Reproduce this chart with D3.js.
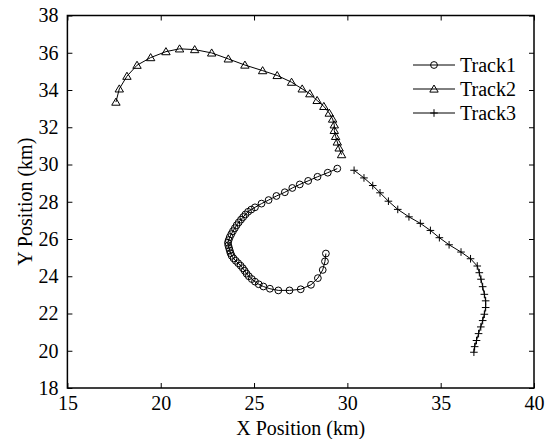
<!DOCTYPE html>
<html>
<head>
<meta charset="utf-8">
<script src="https://cdn.jsdelivr.net/npm/d3@7"></script>
<style>
  body { margin: 0; background: #fff; }
  svg { display: block; }
  text { font-family: "Liberation Serif", "Times New Roman", serif; fill: #000; }
</style>
</head>
<body>
<svg id="chart" width="547" height="439"></svg>
<script>
// Axis ticks
const xTicks = [15, 20, 25, 30, 35, 40];
const yTicks = [18, 20, 22, 24, 26, 28, 30, 32, 34, 36, 38];

// Track 1 (circles)
const track1X = [29.46, 28.95, 28.40, 27.90, 27.45, 27.05, 26.65, 26.20, 25.78, 25.40, 25.05,
  24.85, 24.68, 24.54, 24.42, 24.30, 24.18, 24.07, 23.97, 23.87, 23.78, 23.70, 23.64, 23.60,
  23.62, 23.66, 23.70, 23.74, 23.80, 23.90, 24.02, 24.15, 24.28, 24.40, 24.50, 24.60, 24.72,
  24.88, 25.05, 25.25, 25.50, 25.85, 26.30, 26.90, 27.50, 28.05, 28.42, 28.68, 28.80, 28.85];
const track1Y = [29.78, 29.56, 29.34, 29.12, 28.93, 28.74, 28.51, 28.31, 28.09, 27.90, 27.70,
  27.58, 27.46, 27.32, 27.18, 27.04, 26.89, 26.74, 26.58, 26.42, 26.26, 26.10, 25.94, 25.80,
  25.66, 25.52, 25.38, 25.24, 25.10, 24.96, 24.83, 24.70, 24.57, 24.43, 24.29, 24.14, 24.00,
  23.85, 23.71, 23.57, 23.45, 23.33, 23.24, 23.24, 23.30, 23.54, 23.90, 24.34, 24.80, 25.22];

// Track 2 (triangles)
const track2X = [17.60, 17.78, 18.19, 18.73, 19.46, 20.28, 21.01, 21.82, 22.73, 23.62, 24.51,
  25.46, 26.24, 27.01, 27.58, 27.99, 28.38, 28.74, 29.03, 29.21, 29.30, 29.30, 29.37, 29.46,
  29.56, 29.69];
const track2Y = [33.35, 34.06, 34.74, 35.33, 35.74, 36.06, 36.21, 36.17, 35.99, 35.67, 35.34,
  35.04, 34.78, 34.42, 34.06, 33.80, 33.44, 33.12, 32.76, 32.44, 32.13, 31.83, 31.51, 31.21,
  30.89, 30.53];

// Track 3 (plus signs)
const track3X = [30.36, 30.89, 31.36, 31.75, 32.20, 32.70, 33.30, 33.91, 34.45, 34.93, 35.45,
  36.09, 36.60, 36.96, 37.07, 37.16, 37.25, 37.34, 37.41, 37.41, 37.34, 37.25, 37.15, 37.03,
  36.92, 36.82, 36.78];
const track3Y = [29.69, 29.28, 28.87, 28.48, 28.03, 27.59, 27.19, 26.84, 26.46, 26.07, 25.69,
  25.30, 24.94, 24.55, 24.19, 23.84, 23.44, 23.03, 22.68, 22.32, 21.96, 21.62, 21.28, 20.92,
  20.55, 20.22, 19.92];

const seriesNames = ["Track1", "Track2", "Track3"];
const seriesMarkers = ["circle", "triangle", "plus"];

const svg = d3.select("#chart");
const plot = { left: 67.4, right: 534, top: 15.5, bottom: 388 };

const x = d3.scaleLinear().domain([15, 40]).range([plot.left, plot.right]);
const y = d3.scaleLinear().domain([18, 38]).range([plot.bottom, plot.top]);

const markerPath = {
  circle: d3.symbol().type(d3.symbolCircle).size(Math.PI * 3.4 * 3.4)(),
  triangle: "M0,-4L4.2,3.1L-4.2,3.1Z",
  plus: "M-3.8,0H3.8M0,-3.8V3.8"
};

// Axes with inward ticks on all four sides
const tickLen = 5;
const gx = svg.append("g").attr("transform", `translate(0,${plot.bottom})`)
  .call(d3.axisBottom(x).tickValues(xTicks).tickSizeInner(-tickLen).tickSizeOuter(0).tickPadding(8));
const gy = svg.append("g").attr("transform", `translate(${plot.left},0)`)
  .call(d3.axisLeft(y).tickValues(yTicks).tickSizeInner(-tickLen).tickSizeOuter(0).tickPadding(9));
const gt = svg.append("g").attr("transform", `translate(0,${plot.top})`)
  .call(d3.axisTop(x).tickValues(xTicks).tickSizeInner(-tickLen).tickSizeOuter(0).tickFormat(""));
const gr = svg.append("g").attr("transform", `translate(${plot.right},0)`)
  .call(d3.axisRight(y).tickValues(yTicks).tickSizeInner(-tickLen).tickSizeOuter(0).tickFormat(""));

[gx, gy, gt, gr].forEach(g => {
  g.select(".domain").remove();
  g.selectAll(".tick line").attr("stroke", "#000").attr("stroke-width", 1);
  g.selectAll(".tick text").style("font-family", "Liberation Serif").style("font-size", "20px").attr("fill", "#000");
});

svg.append("rect")
  .attr("x", plot.left).attr("y", plot.top)
  .attr("width", plot.right - plot.left).attr("height", plot.bottom - plot.top)
  .attr("fill", "none").attr("stroke", "#000").attr("stroke-width", 1.5);

// Axis titles
svg.append("text")
  .attr("x", (plot.left + plot.right) / 2).attr("y", 435)
  .attr("text-anchor", "middle").style("font-size", "20px")
  .text("X Position (km)");
svg.append("text")
  .attr("transform", `translate(32,${(plot.top + plot.bottom) / 2}) rotate(-90)`)
  .attr("text-anchor", "middle").style("font-size", "20px")
  .text("Y Position (km)");

// Tracks
const tracks = [
  { xs: track1X, ys: track1Y },
  { xs: track2X, ys: track2Y },
  { xs: track3X, ys: track3Y }
].map((t, i) => ({
  name: seriesNames[i],
  marker: seriesMarkers[i],
  points: t.xs.map((v, j) => [v, t.ys[j]])
}));

const line = d3.line().x(d => x(d[0])).y(d => y(d[1]));

tracks.forEach(t => {
  const g = svg.append("g");
  g.append("path").attr("d", line(t.points))
    .attr("fill", "none").attr("stroke", "#000").attr("stroke-width", 1);
  g.selectAll("path.m").data(t.points).join("path")
    .attr("class", "m")
    .attr("d", markerPath[t.marker])
    .attr("transform", d => `translate(${x(d[0])},${y(d[1])})`)
    .attr("fill", "none").attr("stroke", "#000").attr("stroke-width", 1);
});

// Legend
const legend = svg.append("g");
tracks.forEach((t, i) => {
  const ly = 65 + i * 24;
  legend.append("line").attr("x1", 413).attr("x2", 455).attr("y1", ly).attr("y2", ly)
    .attr("stroke", "#000").attr("stroke-width", 1);
  legend.append("path").attr("d", markerPath[t.marker])
    .attr("transform", `translate(434,${ly})`)
    .attr("fill", "none").attr("stroke", "#000").attr("stroke-width", 1);
  legend.append("text").attr("x", 460).attr("y", ly).attr("dy", "0.35em")
    .style("font-size", "20px").text(t.name);
});
</script>
</body>
</html>
